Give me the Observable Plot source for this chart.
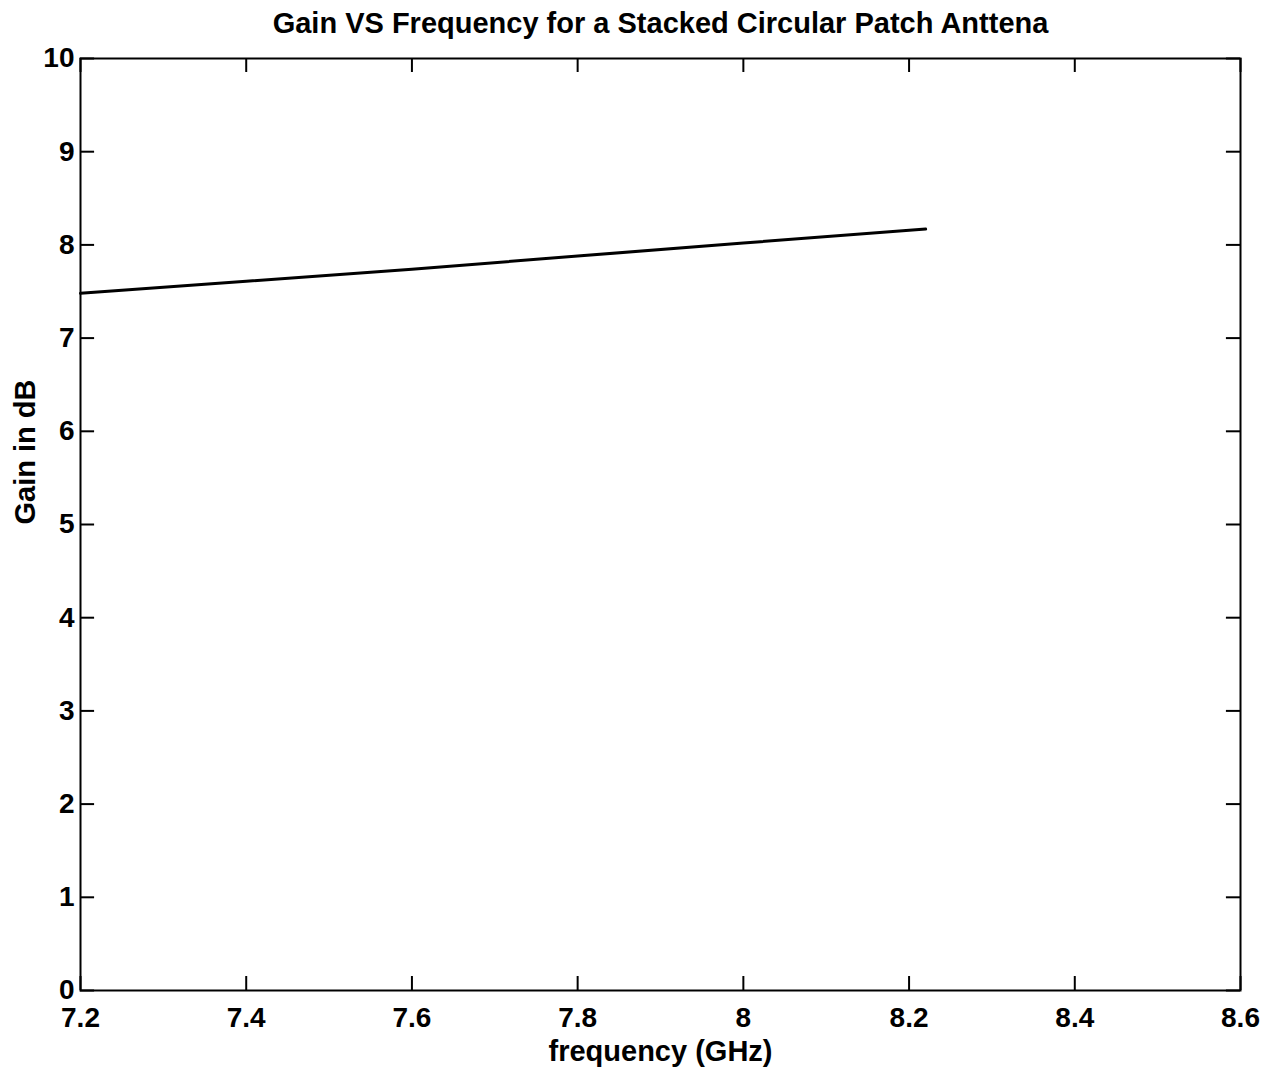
<!DOCTYPE html>
<html>
<head>
<meta charset="utf-8">
<script src="https://cdn.jsdelivr.net/npm/d3@7"></script>
<script src="https://cdn.jsdelivr.net/npm/@observablehq/plot@0.6"></script>
<style>
  body { margin: 0; background: #fff; }
</style>
</head>
<body>
<div id="chart"></div>
<script>
const frequency = [7.2, 7.4, 7.6, 7.8, 8.0, 8.22];
const gain = [7.48, 7.61, 7.74, 7.88, 8.02, 8.17];
const xTicks = [7.2, 7.4, 7.6, 7.8, 8.0, 8.2, 8.4, 8.6];
const yTicks = [0, 1, 2, 3, 4, 5, 6, 7, 8, 9, 10];
const titleText = "Gain VS Frequency for a Stacked Circular Patch Anttena";
const xLabel = "frequency (GHz)";
const yLabel = "Gain in dB";

const data = frequency.map((f, i) => ({f, g: gain[i]}));
const fmt = d => d3.format("~g")(d);

const plot = Plot.plot({
  width: 1273,
  height: 1084,
  marginLeft: 80,
  marginRight: 33,
  marginTop: 58,
  marginBottom: 94,
  style: {fontFamily: "'Liberation Sans', Arial, sans-serif", fontSize: "28px", fontWeight: "bold", background: "#fff", color: "#000"},
  x: {domain: [7.2, 8.6]},
  y: {domain: [0, 10]},
  marks: [
    Plot.frame({stroke: "#000", strokeWidth: 2}),
    // inward ticks, bottom & top
    Plot.ruleX(xTicks, {x: d => d, y1: 0, y2: 0.15, stroke: "#000", strokeWidth: 2}),
    Plot.ruleX(xTicks, {x: d => d, y1: 9.85, y2: 10, stroke: "#000", strokeWidth: 2}),
    // inward ticks, left & right
    Plot.ruleY(yTicks, {y: d => d, x1: 7.2, x2: 7.217, stroke: "#000", strokeWidth: 2}),
    Plot.ruleY(yTicks, {y: d => d, x1: 8.583, x2: 8.6, stroke: "#000", strokeWidth: 2}),
    Plot.axisX({ticks: xTicks, tickSize: 0, tickPadding: 17, tickFormat: fmt, fontSize: 28, fontWeight: "bold", label: null}),
    Plot.axisY({ticks: yTicks, tickSize: 0, tickPadding: 6, tickFormat: fmt, fontSize: 28, fontWeight: "bold", label: null}),
    Plot.line(data, {x: "f", y: "g", stroke: "#000", strokeWidth: 3}),
    Plot.text([titleText], {frameAnchor: "top", dy: -46, fontSize: 29, fontWeight: "bold", text: d => d}),
    Plot.text([xLabel], {frameAnchor: "bottom", dy: 70, fontSize: 29, fontWeight: "bold", text: d => d}),
    Plot.text([yLabel], {frameAnchor: "left", dx: -55, rotate: -90, fontSize: 29, fontWeight: "bold", text: d => d})
  ]
});
document.getElementById("chart").appendChild(plot);
</script>
</body>
</html>
